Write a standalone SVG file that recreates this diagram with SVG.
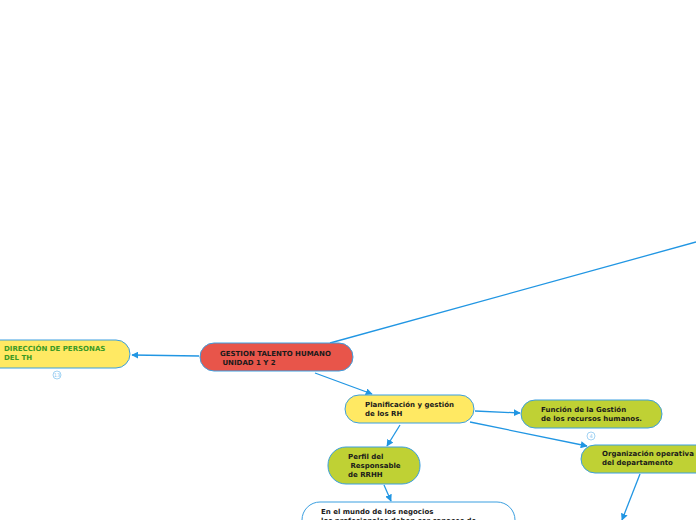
<svg xmlns="http://www.w3.org/2000/svg" width="696" height="520" viewBox="0 0 696 520">
<style>
.n{stroke:#3b9fe0;stroke-width:1}
.t{font-family:"DejaVu Sans",Verdana,sans-serif;font-weight:bold;font-size:7px;fill:#1a1a1a}
.g{fill:#3c9a24}
.c{stroke:#2196e3;stroke-width:1.3;fill:none}
.b{fill:#fff;stroke:#8cc8f0;stroke-width:0.8}
.bt{font-family:"DejaVu Sans",sans-serif;font-size:5px;fill:#8cc8f0;text-anchor:middle}
</style>
<defs>
<marker id="a" viewBox="0 0 10 10" refX="9" refY="5" markerWidth="7" markerHeight="7" markerUnits="userSpaceOnUse" orient="auto">
<path d="M0,0L10,5L0,10z" fill="#2196e3"/>
</marker>
</defs>
<rect width="696" height="520" fill="#fff"/>
<g id="connectors">
<line class="c" x1="330" y1="343" x2="696" y2="242"/>
<line class="c" x1="199" y1="356" x2="132" y2="355" marker-end="url(#a)"/>
<line class="c" x1="315" y1="373" x2="372" y2="394" marker-end="url(#a)"/>
<line class="c" x1="475" y1="411" x2="520" y2="413" marker-end="url(#a)"/>
<line class="c" x1="470" y1="422" x2="587" y2="446" marker-end="url(#a)"/>
<line class="c" x1="400" y1="425" x2="387" y2="446" marker-end="url(#a)"/>
<line class="c" x1="384" y1="485" x2="391" y2="501" marker-end="url(#a)"/>
<line class="c" x1="640" y1="474" x2="622" y2="520" marker-end="url(#a)"/>
</g>
<g id="main">
<rect class="n" x="200" y="343" width="153" height="28" rx="14" fill="#e8554a"/>
<text class="t" x="220" y="356">GESTION TALENTO HUMANO</text>
<text class="t" x="220" y="365" xml:space="preserve"> UNIDAD 1 Y 2</text>
</g>
<g id="direccion">
<rect class="n" x="-20" y="340" width="150" height="28" rx="14" fill="#ffe963"/>
<text class="t g" x="4" y="351">DIRECCIÓN DE PERSONAS</text>
<text class="t g" x="4" y="360">DEL TH</text>
<circle class="b" cx="57" cy="375" r="4"/>
<text class="bt" x="57" y="377">13</text>
</g>
<g id="planificacion">
<rect class="n" x="345" y="395" width="129" height="28" rx="14" fill="#ffe963"/>
<text class="t" x="365" y="407">Planificación y gestión</text>
<text class="t" x="365" y="416">de los RH</text>
</g>
<g id="funcion">
<rect class="n" x="521" y="400" width="141" height="28" rx="14" fill="#bfd134"/>
<text class="t" x="541" y="412">Función de la Gestión</text>
<text class="t" x="541" y="421">de los recursos humanos.</text>
<circle class="b" cx="591" cy="436" r="4"/>
<text class="bt" x="591" y="438">4</text>
</g>
<g id="organizacion">
<rect class="n" x="581" y="445" width="140" height="28" rx="14" fill="#bfd134"/>
<text class="t" x="602" y="456">Organización operativa</text>
<text class="t" x="602" y="465">del departamento</text>
</g>
<g id="perfil">
<rect class="n" x="328" y="447" width="92" height="37" rx="18" fill="#bfd134"/>
<text class="t" x="348" y="459">Perfil del</text>
<text class="t" x="348" y="468" xml:space="preserve"> Responsable</text>
<text class="t" x="348" y="477">de RRHH</text>
</g>
<g id="negocios">
<rect class="n" x="302" y="502" width="213" height="40" rx="18" fill="#fff"/>
<text class="t" x="321" y="514">En el mundo de los negocios</text>
<text class="t" x="321" y="523">los profesionales deben ser capaces de</text>
</g>
</svg>
